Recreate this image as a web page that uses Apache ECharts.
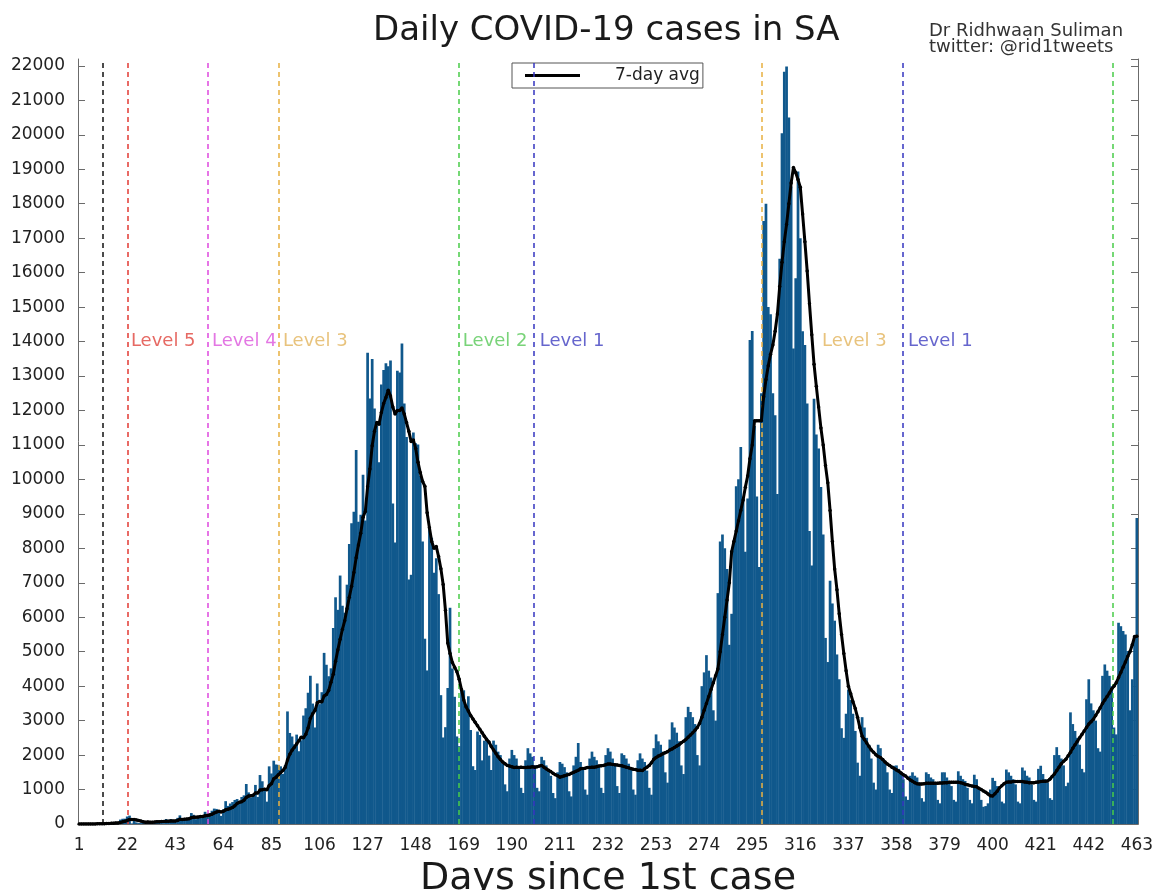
<!DOCTYPE html>
<html><head><meta charset="utf-8">
<script src="https://cdn.jsdelivr.net/npm/echarts@6/dist/echarts.min.js"></script>
<style>html,body{margin:0;padding:0;background:#fff;overflow:hidden}#c{width:1155px;height:890px}</style>
</head><body><div id="c"></div>
<script>
// Daily new cases, day 1 .. 463 (rows of 7 days)
const dailyCases = [
1,0,1,1,4,0,6,
3,8,14,13,11,23,31,
34,52,38,34,128,152,155,
218,243,17,93,46,27,27,
82,43,80,70,31,63,96,
89,69,25,145,99,143,91,
99,178,251,124,142,165,170,
318,267,141,185,247,203,354,
297,304,385,447,437,352,236,
424,663,525,595,637,698,724,
665,785,831,1160,918,767,803,
1134,785,1421,1240,1032,649,1673,
1466,1837,1727,1716,1674,1455,1713,
3267,2642,2539,2312,2594,2112,2430,
3147,3359,3809,4302,3495,2801,4078,
3478,3825,4966,4621,4288,4518,5688,
6579,6215,7210,6334,6130,6945,8124,
8728,9063,10853,8773,8971,10134,8810,
13674,12348,13497,12058,11554,10496,12757,
13172,13373,13285,13449,9300,8170,13150,
13104,13944,12204,11233,7096,7232,11362,
11046,11014,10107,8195,5377,4456,8559,
8307,7292,7712,6671,3739,2511,2810,
3946,6275,4513,3692,2541,2258,3916,
3880,3398,3707,2728,1677,1567,2684,
2585,1846,2419,2505,1985,1567,2420,
2300,2100,2000,1750,1150,950,1900,
2150,2000,1900,1650,1050,900,1850,
2200,2050,1950,1700,1050,950,1950,
1850,1700,1600,1400,900,750,1500,
1800,1750,1650,1500,950,800,1700,
1950,2350,1800,1650,1000,850,1900,
2100,1950,1850,1700,1050,900,2000,
2200,2100,1900,1750,1100,900,2050,
2000,1900,1750,1600,1000,850,1850,
2050,1900,1800,1550,1050,850,2200,
2600,2400,2300,2100,1500,1200,2450,
2950,2800,2650,2400,1700,1450,3100,
3400,3250,3100,2900,2000,1700,4000,
4400,4900,4450,4250,3300,3000,6700,
8200,8400,7999,7400,5200,6100,8200,
9800,10008,10939,9500,7900,9445,14046,
14305,11552,9502,7458,12500,17500,18000,
15000,14796,12500,11859,9580,16400,20046,
21832,21980,20500,18500,13800,15834,18935,
17000,14300,13900,12200,8500,7500,12340,
11300,10900,9780,8400,5400,4700,7060,
6400,5900,4920,4200,2780,2500,3200,
3900,3600,3200,2700,1780,1400,3100,
2800,2500,2300,1900,1200,1000,2300,
2200,1900,1800,1500,1000,900,1690,
1700,1600,1500,1300,800,700,1400,
1500,1400,1350,1200,750,650,1500,
1450,1350,1300,1150,700,600,1500,
1500,1350,1250,1100,700,650,1530,
1400,1300,1250,1050,700,600,1430,
1300,1000,700,500,520,600,1000,
1340,1250,1100,1000,650,600,1580,
1500,1400,1300,1150,650,600,1640,
1550,1400,1350,1150,700,650,1600,
1690,1450,1300,1200,750,700,2000,
2230,2000,1900,1700,1100,1200,3240,
2900,2700,2500,2300,1600,1500,3620,
4200,3500,3300,3000,2200,2100,4300,
4630,4450,4300,4000,2800,2600,5840,
5740,5600,5500,5020,3300,4200,5400,
8880
];

// 7-day average, day 1 .. 463
const avg7 = [
0,0,0,1,1,1,2,
2,4,5,7,9,12,15,
19,25,29,32,46,62,79,
105,131,128,134,119,102,84,
64,53,56,53,52,57,66,
67,71,72,78,83,89,88,
89,105,137,134,140,143,154,
185,197,195,200,215,220,240,
248,263,283,320,347,368,351,
370,410,429,450,479,528,597,
631,648,692,772,812,822,834,
901,901,985,996,1012,995,1119,
1166,1315,1359,1427,1494,1553,1641,
1858,2025,2141,2227,2323,2417,2520,
2500,2603,2784,3067,3196,3295,3517,
3553,3548,3715,3760,3873,4117,4347,
4720,5055,5361,5651,5900,6250,6580,
6900,7300,7730,8100,8440,8900,9070,
9790,10300,10980,11400,11650,11600,11940,
12200,12380,12590,12420,12100,11900,12000,
12000,12070,11900,11650,11400,11100,11140,
10900,10500,10200,9950,9800,9030,8600,
8200,8000,8050,7760,7410,6950,6200,
5250,4950,4690,4550,4420,4200,3900,
3600,3400,3280,3150,3050,2950,2850,
2750,2650,2550,2450,2380,2250,2150,
2050,1950,1870,1800,1750,1700,1680,
1660,1640,1650,1640,1650,1640,1640,
1650,1650,1660,1650,1660,1680,1700,
1650,1600,1560,1520,1470,1430,1400,
1360,1380,1400,1420,1440,1470,1500,
1530,1560,1600,1610,1620,1640,1640,
1650,1650,1660,1680,1690,1700,1720,
1740,1740,1730,1720,1710,1700,1690,
1670,1650,1630,1610,1590,1580,1560,
1560,1550,1600,1650,1700,1780,1880,
1930,1970,2000,2040,2070,2100,2150,
2180,2220,2260,2300,2355,2400,2450,
2520,2580,2650,2720,2800,2920,3100,
3300,3500,3700,3900,4100,4300,4500,
5000,5500,6000,6500,7000,7900,8200,
8500,8800,9100,9400,9775,10100,10600,
11000,11700,11700,11700,11700,12400,12900,
13300,13630,13900,14300,14800,15600,16300,
16900,17400,18000,18600,19050,18900,18700,
18480,17700,16900,16050,15100,14200,13340,
12700,12100,11490,11000,10400,9900,9100,
8200,7400,6800,6100,5500,4950,4450,
4000,3780,3550,3350,3100,2800,2550,
2450,2350,2250,2150,2080,2010,1960,
1930,1870,1800,1740,1700,1650,1610,
1570,1530,1480,1430,1390,1330,1280,
1240,1200,1170,1160,1160,1170,1180,
1180,1180,1180,1180,1180,1190,1190,
1200,1200,1210,1210,1215,1215,1210,
1200,1180,1150,1140,1120,1100,1090,
1080,1040,1000,960,920,870,820,
810,880,950,1050,1110,1170,1215,
1220,1220,1230,1230,1230,1230,1230,
1220,1210,1200,1200,1200,1210,1220,
1230,1240,1240,1245,1300,1380,1450,
1550,1650,1750,1820,1880,1980,2080,
2200,2300,2400,2500,2600,2700,2800,
2900,2970,3040,3150,3260,3370,3500,
3600,3700,3800,3920,4000,4100,4250,
4400,4550,4700,4860,5000,5200,5440,
5450
];

// Vertical event lines (day positions) and their colours
const eventDays   = [11.2, 22.3, 57.2, 88.1, 166.7, 199.4, 299.3, 360.9, 452.3];
const eventColors = ['#111111','#e23a33','#de48de','#e8b040','#48cc48','#3434c0','#e8b040','#3434c0','#48cc48'];

// Level labels
const levelLabels      = ['Level 5','Level 4','Level 3','Level 2','Level 1','Level 3','Level 1'];
const levelLabelDays   = [23.6, 59.0, 90.0, 168.6, 202.2, 325.5, 363.0];
const levelLabelColors = ['#e0443c','#dc55dc','#e2b45c','#58c858','#4040c0','#e2b45c','#4040c0'];
const levelLabelValue  = 14000;

const titleText = 'Daily COVID-19 cases in SA';
const creditText = 'Dr Ridhwaan Suliman\ntwitter: @rid1tweets';
const xName = 'Days since 1st case';
const seriesName = '7-day avg';

const days = dailyCases.map((_, i) => String(i + 1));
const tickEvery = 21;
const tickFn = (idx) => idx % tickEvery === 0;
const axisGray = '#6b6b6b';
const FONT = 'DejaVu Sans';

const chart = echarts.init(document.getElementById('c'), null, { width: 1155, height: 890 });
chart.setOption({
  animation: false,
  backgroundColor: '#ffffff',
  title: {
    text: titleText, left: 373, top: 14, padding: 0,
    textStyle: { fontFamily: FONT, fontSize: 34, fontWeight: 'normal', color: '#1a1a1a' }
  },
  graphic: [
    { type: 'text', left: 929, top: 22,
      style: { text: creditText, fontFamily: FONT, fontSize: 18, lineHeight: 16, fill: '#333' } }
  ],
  legend: {
    data: [{ name: seriesName, icon: 'path://M0,0L55,0L55,3L0,3Z' }], left: 512, top: 63,
    padding: [4, 3, 4, 13], itemWidth: 55, itemHeight: 3,
    borderColor: '#555', borderWidth: 1, borderRadius: 0,
    textStyle: { fontFamily: FONT, fontSize: 17, color: '#222', padding: [0, 0, 0, 30] }
  },
  grid: { left: 78, right: 17, top: 59, bottom: 66, containLabel: false, outerBoundsMode: 'none' },
  xAxis: [
    {
      type: 'category', data: days, boundaryGap: true,
      axisLine: { lineStyle: { color: axisGray, width: 1 } },
      axisTick: { inside: true, length: 7, alignWithLabel: true, interval: tickFn, lineStyle: { color: axisGray } },
      axisLabel: { interval: tickFn, fontFamily: FONT, fontSize: 17, color: '#222', margin: 13 },
      splitLine: { show: false },
      name: xName, nameLocation: 'middle', nameGap: 33,
      nameTextStyle: { fontFamily: FONT, fontSize: 38, color: '#1a1a1a', lineHeight: 40 }
    },
    {
      type: 'category', data: days, boundaryGap: true, position: 'top',
      axisLine: { lineStyle: { color: axisGray, width: 1 } },
      axisTick: { inside: true, length: 7, alignWithLabel: true, interval: tickFn, lineStyle: { color: axisGray } },
      axisLabel: { show: false }, splitLine: { show: false }
    },
    { type: 'value', min: 0.5, max: 463.5, show: false }
  ],
  yAxis: [
    {
      type: 'value', min: 0, max: 22200, interval: 1000,
      axisLine: { show: true, lineStyle: { color: axisGray, width: 1 } },
      axisTick: { show: true, inside: true, length: 7, lineStyle: { color: axisGray } },
      axisLabel: { fontFamily: FONT, fontSize: 17, color: '#222', margin: 13, showMaxLabel: false,
                   formatter: (v) => String(v) },
      splitLine: { show: false }
    },
    {
      type: 'value', min: 0, max: 22200, interval: 1000, position: 'right',
      axisLine: { show: true, lineStyle: { color: axisGray, width: 1 } },
      axisTick: { show: true, inside: true, length: 7, lineStyle: { color: axisGray } },
      axisLabel: { show: false }, splitLine: { show: false }
    }
  ],
  series: [
    {
      type: 'bar', name: 'daily', data: dailyCases, xAxisIndex: 0, yAxisIndex: 0,
      barWidth: 2.7, barGap: '-100%', itemStyle: { color: '#10588c' },
      silent: true, z: 2
    },
    {
      type: 'line', name: 'events', data: [], xAxisIndex: 2, yAxisIndex: 0, z: 3,
      markLine: {
        silent: true, symbol: ['none', 'none'], label: { show: false }, animation: false,
        data: eventDays.map((d, i) => ({ xAxis: d, lineStyle: { color: eventColors[i], type: [5, 4], width: 1.5 } }))
      }
    },
    {
      type: 'scatter', name: 'labels', xAxisIndex: 2, yAxisIndex: 0, symbolSize: 0, silent: true, z: 4,
      data: levelLabels.map((t, i) => ({
        value: [levelLabelDays[i], levelLabelValue],
        label: { show: true, position: 'right', distance: 0, formatter: t, color: levelLabelColors[i],
                 fontFamily: FONT, fontSize: 18 }
      }))
    },
    {
      type: 'line', name: seriesName, data: avg7, xAxisIndex: 0, yAxisIndex: 0,
      symbol: 'circle', symbolSize: 3.5, showAllSymbol: true,
      lineStyle: { color: '#000', width: 3 }, itemStyle: { color: '#000' }, z: 5, silent: true
    }
  ]
});
</script>
</body></html>
